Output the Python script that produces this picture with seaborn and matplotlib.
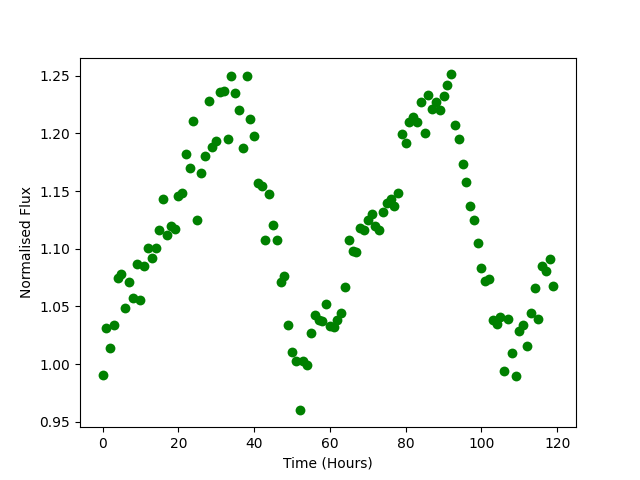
import numpy as np
import pandas as pd
import matplotlib
matplotlib.use("Agg")
import matplotlib.pyplot as plt
import seaborn as sns

# flux readings, one per hour
hours = np.arange(120)
flux = [0.991, 1.031, 1.014, 1.034, 1.075, 1.078, 1.049, 1.071, 1.057, 1.087,
        1.056, 1.085, 1.101, 1.092, 1.101, 1.116, 1.143, 1.112, 1.120, 1.117,
        1.146, 1.148, 1.182, 1.170, 1.211, 1.125, 1.166, 1.180, 1.228, 1.188,
        1.193, 1.236, 1.237, 1.195, 1.250, 1.235, 1.220, 1.187, 1.250, 1.212,
        1.198, 1.157, 1.154, 1.108, 1.147, 1.121, 1.108, 1.071, 1.076, 1.034,
        1.011, 1.003, 0.960, 1.003, 0.999, 1.027, 1.043, 1.038, 1.037, 1.052,
        1.033, 1.032, 1.038, 1.044, 1.067, 1.108, 1.098, 1.097, 1.118, 1.116,
        1.125, 1.130, 1.120, 1.116, 1.132, 1.140, 1.143, 1.137, 1.148, 1.199,
        1.192, 1.210, 1.214, 1.210, 1.227, 1.200, 1.233, 1.221, 1.227, 1.220,
        1.232, 1.242, 1.251, 1.207, 1.195, 1.173, 1.158, 1.137, 1.125, 1.105,
        1.083, 1.072, 1.074, 1.038, 1.035, 1.041, 0.994, 1.039, 1.010, 0.990,
        1.029, 1.034, 1.016, 1.044, 1.066, 1.039, 1.085, 1.081, 1.091, 1.068]

df = pd.DataFrame({'hours': hours, 'flux': flux})

fig, ax = plt.subplots(figsize=(6.4, 4.8), dpi=100)
sns.scatterplot(data=df, x='hours', y='flux', ax=ax, color='green',
                s=50, linewidth=0, marker='o')
ax.set_xlabel('Time (Hours)')
ax.set_ylabel('Normalised Flux')
fig.savefig('out.png')
